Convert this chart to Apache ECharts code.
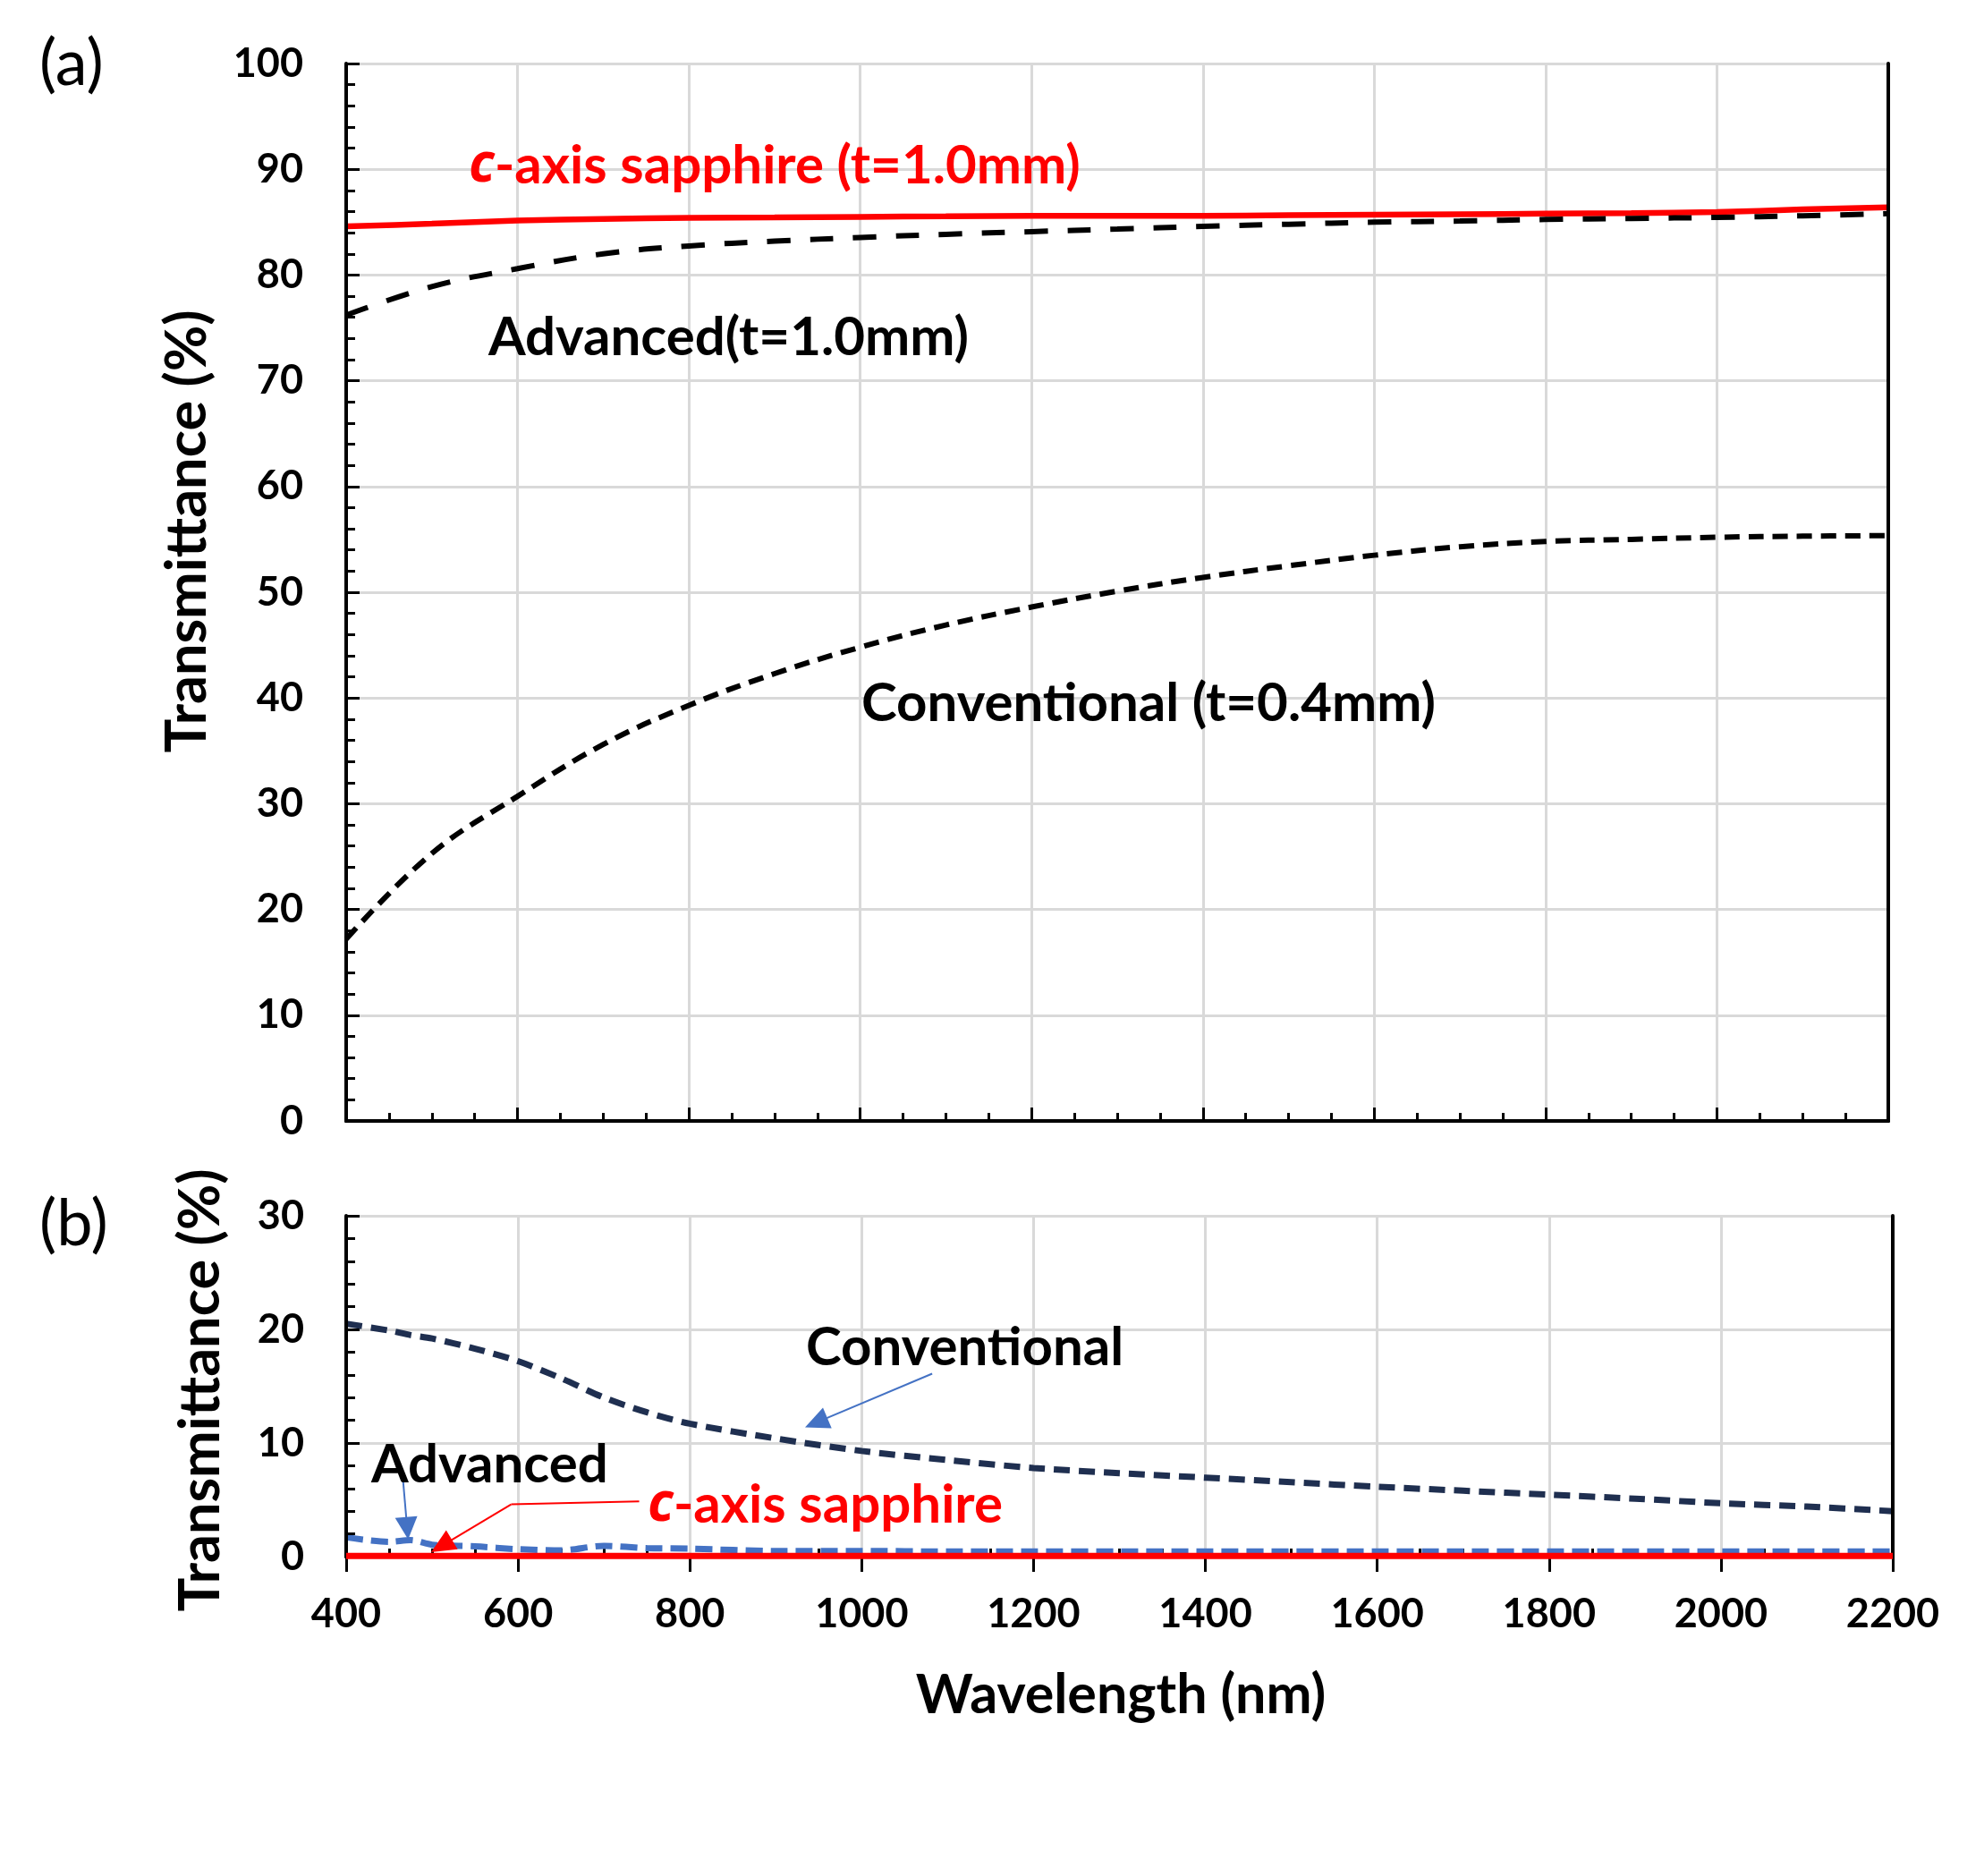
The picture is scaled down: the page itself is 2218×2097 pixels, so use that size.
<!DOCTYPE html>
<html>
<head>
<meta charset="utf-8">
<title>Transmittance</title>
<script src="https://cdn.jsdelivr.net/npm/echarts/dist/echarts.min.js"></script>
<style>
  html, body { margin: 0; padding: 0; background: #fff; }
  #main { width: 2218px; height: 2097px; }
</style>
</head>
<body>
<div id="main"></div>
<script>
// (a) 厚板の透過率
var wlTop = [400, 500, 600, 700, 800, 900, 1000, 1100, 1200, 1300, 1400, 1500, 1600, 1700, 1800, 1900, 2000, 2100, 2200];
var topSapphire = [84.6, 84.85, 85.15, 85.3, 85.4, 85.45, 85.5, 85.55, 85.6, 85.6, 85.6, 85.65, 85.7, 85.75, 85.8, 85.85, 85.95, 86.2, 86.4];
var topAdvanced = [76.2, 78.9, 80.6, 82.0, 82.75, 83.2, 83.55, 83.85, 84.1, 84.35, 84.6, 84.8, 85.0, 85.1, 85.25, 85.35, 85.45, 85.6, 85.8];
var topConventional = [17.2, 25.3, 30.7, 35.6, 39.3, 42.3, 44.8, 46.9, 48.6, 50.1, 51.4, 52.5, 53.5, 54.3, 54.8, 55.0, 55.2, 55.3, 55.35];

// (b)
var wlBottom = [400, 450, 475, 500, 550, 600, 650, 700, 750, 800, 900, 1000, 1100, 1200, 1300, 1400, 1500, 1600, 1700, 1800, 1900, 2000, 2100, 2200];
var botConventional = [20.5, 19.9, 19.5, 19.2, 18.3, 17.2, 15.7, 14.0, 12.7, 11.7, 10.4, 9.3, 8.5, 7.8, 7.35, 6.95, 6.55, 6.15, 5.8, 5.45, 5.1, 4.7, 4.4, 4.0];
var botAdvanced = [1.7, 1.3, 1.45, 1.05, 0.9, 0.65, 0.55, 0.95, 0.75, 0.7, 0.5, 0.5, 0.45, 0.45, 0.45, 0.45, 0.45, 0.45, 0.45, 0.45, 0.45, 0.45, 0.45, 0.45];
var botSapphire = [0.05, 0.05, 0.05, 0.05, 0.05, 0.05, 0.05, 0.05, 0.05, 0.05, 0.05, 0.05, 0.05, 0.05, 0.05, 0.05, 0.05, 0.05, 0.05, 0.05, 0.05, 0.05, 0.05, 0.05];

// 注釈の矢印 (データ座標, 終点は矢じりの中心)
var arrowConventional = [[1082, 16.1], [947, 11.8]];
var arrowAdvanced = [[466, 6.9], [471, 2.5]];
var arrowSapphire = [[741, 4.86], [592, 4.6], [511, 0.94]];

var FONT = 'Lato, "Noto Sans", sans-serif';
var GRID_COLOR = '#d9d9d9';
var NOTE_SIZE = 60;

function pairs(xs, ys) {
    var out = [];
    for (var i = 0; i < xs.length; i++) out.push([xs[i], ys[i]]);
    return out;
}

var tickLabel = {
    color: '#000', fontFamily: FONT, fontWeight: 'bold', fontSize: 45,
    formatter: function(v) { return String(v); }
};

// 枠線だけの軸
function frameAxis(grid, pos, min, max) {
    return {
        type: 'value', gridIndex: grid, position: pos, min: min, max: max, z: 4,
        axisLine: { show: true, lineStyle: { color: '#000', width: 4 } },
        axisTick: { show: false }, axisLabel: { show: false }, splitLine: { show: false }
    };
}
// グリッド線だけの軸
function gridAxis(grid, pos, min, max, interval, minor) {
    return {
        type: 'value', gridIndex: grid, position: pos, min: min, max: max, interval: interval, z: 1,
        axisLine: { show: false },
        axisTick: { show: false, inside: true },
        minorTick: minor ? { show: true, splitNumber: 4, length: 9, lineStyle: { color: '#000', width: 3 } } : { show: false },
        axisLabel: { show: false },
        splitLine: { show: true, lineStyle: { color: GRID_COLOR, width: 3 } }
    };
}

function note(x, y, text, color) {
    return {
        type: 'text', x: x, y: y, z: 50,
        style: {
            text: text, fontFamily: FONT, fontWeight: 'bold', fontSize: NOTE_SIZE, fill: color,
            align: 'left', verticalAlign: 'middle',
            rich: {
                i: { font: 'italic bold ' + NOTE_SIZE + 'px "Open Sans", ' + FONT, fontStyle: 'italic', fill: color },
                n: { font: 'bold ' + NOTE_SIZE + 'px ' + FONT, fill: color }
            }
        }
    };
}

var chart = echarts.init(document.getElementById('main'));

var option = {
    animation: false,
    backgroundColor: '#fff',
    grid: [
        { left: 387, top: 71, width: 1724, height: 1182, outerBoundsMode: 'none' },
        { left: 387, top: 1359, width: 1729, height: 381, outerBoundsMode: 'none' }
    ],
    xAxis: [
        {
            type: 'value', gridIndex: 0, position: 'bottom', min: 400, max: 2200, interval: 200, z: 4,
            axisLine: { show: true, lineStyle: { color: '#000', width: 4 } },
            axisTick: { show: true, inside: true, length: 15, lineStyle: { color: '#000', width: 3 } },
            minorTick: { show: true, splitNumber: 4, length: 9, lineStyle: { color: '#000', width: 3 } },
            axisLabel: { show: false },
            splitLine: { show: false }
        },
        gridAxis(0, 'bottom', 400, 2200, 200, false),
        frameAxis(0, 'top', 400, 2200),
        {
            type: 'value', gridIndex: 1, position: 'bottom', min: 400, max: 2200, interval: 200, z: 4,
            axisLine: { show: true, lineStyle: { color: '#000', width: 4 } },
            axisTick: { show: true, inside: false, length: 17, lineStyle: { color: '#000', width: 3 } },
            axisLabel: Object.assign({ margin: 42, lineHeight: 45 }, tickLabel),
            splitLine: { show: false }
        },
        gridAxis(1, 'bottom', 400, 2200, 200, true),
        frameAxis(1, 'top', 400, 2200)
    ],
    yAxis: [
        {
            type: 'value', gridIndex: 0, position: 'left', min: 0, max: 100, interval: 10, z: 4,
            axisLine: { show: true, lineStyle: { color: '#000', width: 4 } },
            axisTick: { show: true, inside: true, length: 15, lineStyle: { color: '#000', width: 3 } },
            minorTick: { show: true, splitNumber: 5, length: 10, lineStyle: { color: '#000', width: 3 } },
            axisLabel: Object.assign({ margin: 48 }, tickLabel),
            splitLine: { show: false }
        },
        gridAxis(0, 'left', 0, 100, 10, false),
        frameAxis(0, 'right', 0, 100),
        {
            type: 'value', gridIndex: 1, position: 'left', min: 0, max: 30, interval: 10, z: 4,
            axisLine: { show: true, lineStyle: { color: '#000', width: 4 } },
            axisTick: { show: true, inside: true, length: 15, lineStyle: { color: '#000', width: 3 } },
            minorTick: { show: true, splitNumber: 5, length: 10, lineStyle: { color: '#000', width: 3 } },
            axisLabel: Object.assign({ margin: 47 }, tickLabel),
            splitLine: { show: false }
        },
        gridAxis(1, 'left', 0, 30, 10, false),
        frameAxis(1, 'right', 0, 30)
    ],
    series: [
        // (a)
        {
            name: 'c-axis sapphire (t=1.0mm)', type: 'line', xAxisIndex: 0, yAxisIndex: 0,
            showSymbol: false, smooth: 0.3, data: pairs(wlTop, topSapphire),
            lineStyle: { color: '#ff0000', width: 6.5, type: 'solid' }
        },
        {
            name: 'Advanced(t=1.0mm)', type: 'line', xAxisIndex: 0, yAxisIndex: 0,
            showSymbol: false, smooth: 0.4, data: pairs(wlTop, topAdvanced),
            lineStyle: { color: '#000', width: 6, type: [26, 22] }
        },
        {
            name: 'Conventional (t=0.4mm)', type: 'line', xAxisIndex: 0, yAxisIndex: 0,
            showSymbol: false, smooth: 0.4, data: pairs(wlTop, topConventional),
            lineStyle: { color: '#000', width: 6, type: [17, 10] }
        },
        // (b)
        {
            name: 'Conventional', type: 'line', xAxisIndex: 3, yAxisIndex: 3,
            showSymbol: false, smooth: 0.3, data: pairs(wlBottom, botConventional),
            lineStyle: { color: '#1f2f50', width: 7, type: [18, 10] },
            markLine: {
                silent: true, animation: false, label: { show: false },
                lineStyle: { color: '#4472c4', width: 2, type: 'solid' },
                symbol: ['none', 'triangle'], symbolSize: [25, 27],
                data: [
                    [{ coord: arrowConventional[0] }, { coord: arrowConventional[1] }]
                ]
            }
        },
        {
            name: 'Advanced', type: 'line', xAxisIndex: 3, yAxisIndex: 3,
            showSymbol: false, smooth: 0.3, data: pairs(wlBottom, botAdvanced),
            lineStyle: { color: '#4472c4', width: 7, type: [19, 9] },
            markLine: {
                silent: true, animation: false, label: { show: false },
                lineStyle: { color: '#4472c4', width: 2, type: 'solid' },
                symbol: ['none', 'triangle'], symbolSize: [25, 25],
                data: [
                    [{ coord: arrowAdvanced[0] }, { coord: arrowAdvanced[1] }]
                ]
            }
        },
        {
            name: 'c-axis sapphire', type: 'line', xAxisIndex: 3, yAxisIndex: 3, z: 5,
            showSymbol: false, data: pairs(wlBottom, botSapphire),
            lineStyle: { color: '#ff0000', width: 7, type: 'solid' },
            markLine: {
                silent: true, animation: false, label: { show: false },
                lineStyle: { color: '#ff0000', width: 2, type: 'solid' },
                symbolSize: [25, 27],
                data: [
                    [{ coord: arrowSapphire[0], symbol: 'none' }, { coord: arrowSapphire[1], symbol: 'none' }],
                    [{ coord: arrowSapphire[1], symbol: 'none' }, { coord: arrowSapphire[2], symbol: 'triangle' }]
                ]
            }
        }
    ],
    graphic: [
        // パネル記号
        { type: 'text', x: 44, y: 72, z: 50, style: { text: '(a)', fontFamily: FONT, fontSize: 72, fill: '#000', align: 'left', verticalAlign: 'middle' } },
        { type: 'text', x: 44, y: 1369, z: 50, style: { text: '(b)', fontFamily: FONT, fontSize: 72, fill: '#000', align: 'left', verticalAlign: 'middle' } },
        // 軸タイトル
        { type: 'text', x: 210, y: 594, z: 50, rotation: Math.PI / 2, style: { text: 'Transmittance (%)', fontFamily: FONT, fontWeight: 'bold', fontSize: 63, fill: '#000', align: 'center', verticalAlign: 'middle' } },
        { type: 'text', x: 225, y: 1554, z: 50, rotation: Math.PI / 2, style: { text: 'Transmittance (%)', fontFamily: FONT, fontWeight: 'bold', fontSize: 63, fill: '#000', align: 'center', verticalAlign: 'middle' } },
        { type: 'text', x: 1253, y: 1895, z: 50, style: { text: 'Wavelength (nm)', fontFamily: FONT, fontWeight: 'bold', fontSize: 61, fill: '#000', align: 'center', verticalAlign: 'middle' } },
        // (a) の注釈
        note(524, 186, '{i|c}{n|-axis sapphire (t=1.0mm)}', '#ff0000'),
        note(546, 378, 'Advanced(t=1.0mm)', '#000'),
        note(963, 787, 'Conventional (t=0.4mm)', '#000'),
        // (b) の注釈
        note(901, 1507, 'Conventional', '#000'),
        note(415, 1638, 'Advanced', '#000'),
        note(724, 1683, '{i|c}{n|-axis sapphire}', '#ff0000')
    ]
};

chart.setOption(option);
</script>
</body>
</html>
